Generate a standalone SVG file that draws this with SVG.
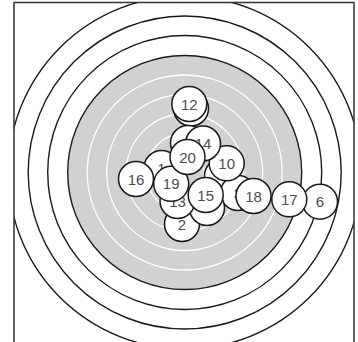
<svg xmlns="http://www.w3.org/2000/svg" width="358" height="342" viewBox="0 0 358 342">
<style>
.ring{fill:none;stroke:#1a1a1a;stroke-width:1.4}
.wring{fill:none;stroke:#ffffff;stroke-width:1.3}
.shot circle{fill:#ffffff;stroke:#1a1a1a;stroke-width:1.5}
.shot text{font-family:"Liberation Sans",Arial,sans-serif;font-size:15px;fill:#4d4d4d;text-anchor:middle}
</style>
<defs>
<clipPath id="frameClip"><rect x="14" y="2.5" width="340" height="350"/></clipPath>
</defs>
<rect width="358" height="342" fill="#ffffff"/>
<g id="target" clip-path="url(#frameClip)">
<circle class="ring" cx="184.7" cy="172.5" r="176.5"/>
<circle class="ring" cx="184.7" cy="172.5" r="156.5"/>
<circle class="ring" cx="184.7" cy="172.5" r="137"/>
<circle cx="184.7" cy="172.5" r="117" fill="#d1d1d1" stroke="#1a1a1a" stroke-width="1.4"/>
<circle class="wring" cx="184.7" cy="172.5" r="97.5"/>
<circle class="wring" cx="184.7" cy="172.5" r="78"/>
<circle class="wring" cx="184.7" cy="172.5" r="58.5"/>
<circle class="wring" cx="184.7" cy="172.5" r="39"/>
<circle class="wring" cx="184.7" cy="172.5" r="19.5"/>
</g>
<rect id="frame" x="14" y="2.5" width="340" height="350" fill="none" stroke="#333333" stroke-width="1.5"/>
<g id="connectors"></g>
<g id="shots">
<g id="shot-b" class="shot"><circle cx="191" cy="108.5" r="17.5"/></g>
<g id="shot-c" class="shot"><circle cx="188" cy="143" r="17.5"/></g>
<g id="shot-g" class="shot"><circle cx="222" cy="176" r="17.5"/></g>
<g id="shot-1" class="shot"><circle cx="161.5" cy="168" r="17.5"/><text x="161.5" y="173.5">1</text></g>
<g id="shot-2" class="shot"><circle cx="182" cy="224" r="17.5"/><text x="182" y="229.5">2</text></g>
<g id="shot-3" class="shot"><circle cx="238" cy="193" r="17.5"/><text x="238" y="198.5">3</text></g>
<g id="shot-6" class="shot"><circle cx="320" cy="201.7" r="17.5"/><text x="320" y="207.2">6</text></g>
<g id="shot-m" class="shot"><circle cx="207" cy="208" r="17.5"/></g>
<g id="shot-10" class="shot"><circle cx="226.7" cy="163.3" r="17.5"/><text x="226.7" y="168.8">10</text></g>
<g id="shot-12" class="shot"><circle cx="189.3" cy="104" r="17.5"/><text x="189.3" y="109.5">12</text></g>
<g id="shot-13" class="shot"><circle cx="177.5" cy="201" r="17.5"/><text x="177.5" y="206.5">13</text></g>
<g id="shot-14" class="shot"><circle cx="203" cy="143.5" r="17.5"/><text x="203" y="149">14</text></g>
<g id="shot-15" class="shot"><circle cx="205.7" cy="195" r="17.5"/><text x="205.7" y="200.5">15</text></g>
<g id="shot-16" class="shot"><circle cx="136" cy="179" r="17.5"/><text x="136" y="184.5">16</text></g>
<g id="shot-17" class="shot"><circle cx="289.3" cy="199.3" r="17.5"/><text x="289.3" y="204.8">17</text></g>
<g id="shot-18" class="shot"><circle cx="253.5" cy="196" r="17.5"/><text x="253.5" y="201.5">18</text></g>
<g id="shot-19" class="shot"><circle cx="171.2" cy="183.8" r="17.5"/><text x="171.2" y="189.3">19</text></g>
<g id="shot-20" class="shot"><circle cx="187.5" cy="157" r="17.5"/><text x="187.5" y="162.5">20</text></g>
</g>
</svg>
